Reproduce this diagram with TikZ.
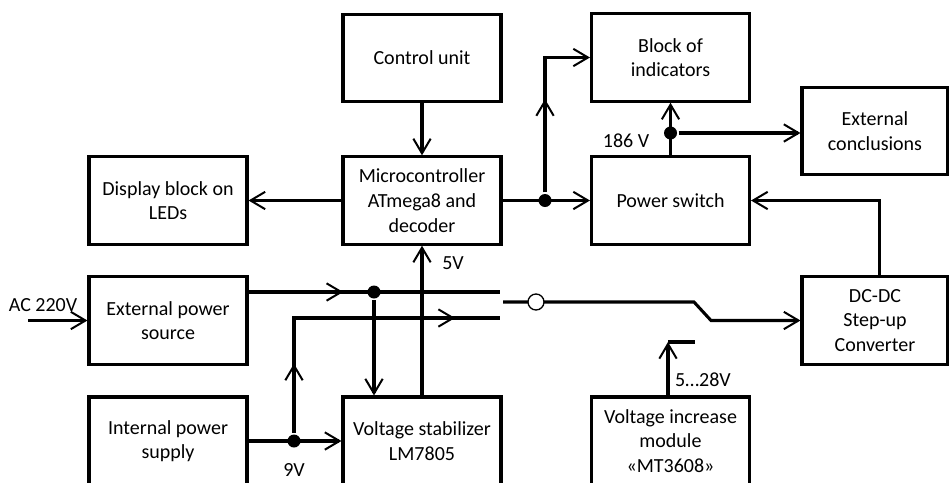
\documentclass[tikz,border=0pt]{standalone}
\usepackage{fontspec}
\setmainfont{Carlito}
\usetikzlibrary{arrows.meta, positioning, calc, decorations.markings}
\tikzset{
  every picture/.style={line width=2.3pt, font=\fontsize{15pt}{18.5pt}\selectfont},
  >/.tip={Straight Barb[length=11pt, width=13pt, line width=1.5pt]},
  box/.style={draw, align=center, inner sep=2pt, minimum width=118.5pt, minimum height=65.5pt},
  dot/.style={circle, fill, inner sep=0pt, minimum size=9.75pt},
  gap/.style={circle, draw, fill=white, line width=1pt, inner sep=0pt, minimum size=12pt},
  lbl/.style={inner sep=0pt},
  midarrow/.style={postaction={decorate, decoration={markings, mark=at position #1 with {\arrow{>}}}}},
}

\begin{document}
\begin{tikzpicture}[x=0.75pt, y=-0.75pt]
  \useasboundingbox (0,0) rectangle (949,482);
  % blocks
  \node[box] (ctrl) at (422,58) {Control unit};
  \node[box] (ind) at (670.5,57.5) {Block of\\indicators};
  \node[box, minimum width=109.5pt] (outs) at (875,131) {External\\conclusions};
  \node[box] (disp) at (168,200.5) {Display block on\\LEDs};
  \node[box] (mcu) at (422,200.5) {Microcontroller\\ATmega8 and\\decoder};
  \node[box] (psw) at (670.5,200.5) {Power switch};
  \node[box] (eps) at (168,320.5) {External power\\source};
  \node[box, minimum width=109.5pt] (dcdc) at (875,320.5) {DC-DC\\Step-up\\Converter};
  \node[box, minimum height=66pt] (ips) at (168,441) {Internal power\\supply};
  \node[box, minimum height=66pt] (vst) at (422,441) {Voltage stabilizer\\LM7805};
  \node[box, minimum height=66pt] (vim) at (670.5,441) {Voltage increase\\module\\«MT3608»};
  % junctions and free ends
  \node[dot] (j1) at (545,200.5) {};
  \node[dot] (j2) at (670.5,133) {};
  \node[dot] (j3) at (294,441) {};
  \node[dot] (j4) at (374,292) {};
  \coordinate (ac) at (28,320.5);
  \coordinate (rail1) at (500,292);
  \coordinate (rail2) at (500,318);
  \coordinate (sw1) at (503,302);
  \coordinate (sw2) at (694,302);
  \coordinate (sw3) at (711,320.5);
  \coordinate (cont) at (668,342);
  \coordinate (contend) at (695,342);
  % signal lines
  \draw[->] (ctrl) -- (mcu);
  \draw[->] (mcu) -- (disp);
  \draw[->] (mcu) -- (psw);
  \draw[->, midarrow=70pt] (j1) |- (ind.west);
  \draw[->] (psw) -- (ind);
  \draw[->] (j2) -- (j2 -| outs.west);
  \draw[->] (dcdc.north) ++(4.5,0) |- (psw.east);
  % power lines
  \draw[->] (ac) -- (eps);
  \draw[midarrow=71pt] (eps.east |- rail1) -- (rail1);
  \draw[->] (j4) -- (j4 |- vst.north);
  \draw[->] (vst) -- (mcu);
  \draw[->] (ips) -- (vst);
  \draw[midarrow=52pt, midarrow=207pt] (j3) |- (rail2);
  \draw[->] (sw1) -- (sw2) -- (sw3) -- (dcdc.west);
  \node[gap] (sw) at (536,302) {};
  \draw[->] (vim.north -| cont) -- (cont);
  \draw (cont) -- (contend);
  % labels
  \node[lbl] (l220) at (43,305) {AC 220V};
  \node[lbl] (l5) at (453,263) {5V};
  \node[lbl] (l9) at (294,470) {9V};
  \node[lbl] (l186) at (626,141) {186 V};
  \node[lbl] (l528) at (703,380) {5…28V};
\end{tikzpicture}
\end{document}
